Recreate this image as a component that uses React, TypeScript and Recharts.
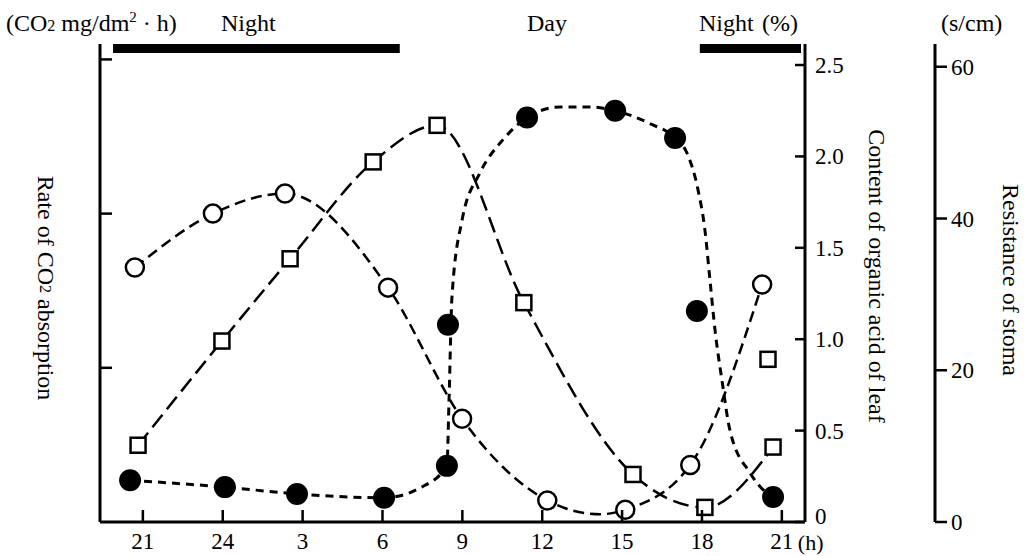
import React from 'react';
import { ComposedChart, Line, Scatter, XAxis, YAxis, ReferenceArea } from 'recharts';

const FONT = "'Liberation Serif', 'Times New Roman', serif";
const FS = 23; // tick labels
const TS = 24; // titles

// hours counted from 21:00 of the first evening (0 = 21h ... 24 = 21h next day)
const hourTicks = [0, 3, 6, 9, 12, 15, 18, 21, 24];
const hourLabels = ['21', '24', '3', '6', '9', '12', '15', '18', '21'];
const hourDomain = [-1.61, 24.87];

const co2Ticks = [1, 2, 3];
const acidTicks = [0, 0.5, 1, 1.5, 2, 2.5];
const stomaTicks = [0, 20, 40, 60];

// dark periods (black bars along the top)
const nightStart = [-1.12, 20.92];
const nightEnd = [9.65, 24.72];

// rate of CO2 absorption - open circles
const co2Hours = [-0.3, 2.63, 5.34, 9.21, 11.99, 15.19, 18.12, 20.56, 23.26];
const co2Rate = [1.65, 2.0, 2.13, 1.52, 0.67, 0.14, 0.08, 0.37, 1.54];
const co2CurveHours = [-0.3, 2.63, 5.34, 9.21, 11.99, 15.19, 17.17, 18.12, 20.56, 23.26];
const co2CurveRate = [1.65, 2.0, 2.13, 1.52, 0.67, 0.14, 0.05, 0.08, 0.37, 1.54];

// organic acid content of leaf (%) - open squares
const acidHours = [-0.18, 2.97, 5.53, 8.65, 11.05, 14.31, 18.41, 21.11, 23.67, 23.48];
const acidContent = [0.42, 0.99, 1.44, 1.97, 2.17, 1.2, 0.26, 0.08, 0.41, 0.89];
const acidCurveHours = [-0.18, 2.97, 5.53, 8.65, 11.05, 14.31, 18.41, 21.11, 23.67];
const acidCurveContent = [0.42, 0.99, 1.44, 1.97, 2.17, 1.2, 0.26, 0.08, 0.41];

// stomatal resistance (s/cm) - filled circles
const stomaHours = [-0.48, 3.08, 5.79, 9.06, 11.42, 11.46, 14.43, 17.74, 19.99, 20.81, 23.67];
const stomaResistance = [5.5, 4.6, 3.7, 3.2, 7.4, 26.0, 53.3, 54.2, 50.6, 27.8, 3.3];
const stomaCurveHours = [
  -0.48, 3.08, 5.79, 9.06, 10.41, 11.42, 11.5, 11.61, 11.99, 12.66, 13.53, 14.43, 15.67, 16.8,
  17.74, 19.05, 19.99, 20.44, 20.85, 21.11, 21.3, 21.49, 21.75, 22.05, 22.8, 23.44, 23.67,
];
const stomaCurveResistance = [
  5.5, 4.6, 3.7, 3.2, 4.5, 7.4, 16.1, 29.7, 39.8, 46.0, 50.4, 53.3, 54.7, 54.7,
  54.2, 52.5, 50.6, 48.6, 43.8, 38.5, 31.9, 25.3, 18.7, 12.1, 6.5, 3.8, 3.3,
];

const pts = (xs: number[], ys: number[]) => xs.map((t, i) => ({ t, v: ys[i] }));

const HourTick = ({ x, y, payload }: any) => {
  const i = hourTicks.indexOf(payload.value);
  return (
    <g>
      <line x1={x} y1={y} x2={x} y2={y - 12} stroke="#000" strokeWidth={2.5} />
      <text x={x} y={y + 27} textAnchor="middle" fontSize={FS} fontFamily={FONT} fill="#000">
        {hourLabels[i]}
      </text>
      {i === hourTicks.length - 1 && (
        <text x={x + 16} y={y + 28} fontSize={22} fontFamily={FONT} fill="#000">
          (h)
        </text>
      )}
    </g>
  );
};

const Co2Tick = ({ x, y }: any) => (
  <line x1={x} y1={y} x2={x + 12} y2={y} stroke="#000" strokeWidth={2.5} />
);

const AcidTick = ({ x, y, payload }: any) => (
  <g>
    <line x1={x - 10} y1={y} x2={x} y2={y} stroke="#000" strokeWidth={2.5} />
    <text
      x={x + 10}
      y={payload.value === 0 ? y - 6 : y}
      dy="0.35em"
      fontSize={FS}
      fontFamily={FONT}
      fill="#000"
    >
      {payload.value === 0 ? '0' : payload.value.toFixed(1)}
    </text>
  </g>
);

const StomaTick = ({ x, y, payload }: any) => (
  <g>
    <line x1={x} y1={y} x2={x + 12} y2={y} stroke="#000" strokeWidth={2.5} />
    <text x={x + 16} y={y} dy="0.35em" fontSize={FS} fontFamily={FONT} fill="#000">
      {payload.value}
    </text>
  </g>
);

const OpenCircle = ({ cx, cy }: any) => (
  <circle cx={cx} cy={cy} r={9} fill="#fff" stroke="#000" strokeWidth={2.5} />
);
const FilledCircle = ({ cx, cy }: any) => <circle cx={cx} cy={cy} r={11} fill="#000" />;
const OpenSquare = ({ cx, cy }: any) => (
  <rect x={cx - 7.5} y={cy - 7.5} width={15} height={15} fill="#fff" stroke="#000" strokeWidth={2.5} />
);

export default function App() {
  const axisLine = { stroke: '#000', strokeWidth: 3 };
  return (
    <div style={{ position: 'absolute', left: 0, top: 0, width: 1025, height: 556, background: '#fff' }}>
      <ComposedChart width={1025} height={556} margin={{ top: 44, right: 0, bottom: 0, left: 0 }}>
        <XAxis
          xAxisId="x"
          type="number"
          dataKey="t"
          domain={hourDomain}
          allowDataOverflow
          ticks={hourTicks}
          interval={0}
          height={34}
          tickSize={0}
          tickMargin={0}
          tickLine={false}
          tick={<HourTick />}
          axisLine={axisLine}
        />
        <XAxis
          xAxisId="top"
          orientation="top"
          type="number"
          dataKey="t"
          domain={hourDomain}
          allowDataOverflow
          height={0}
          tick={false}
          tickLine={false}
          axisLine={{ stroke: '#000', strokeWidth: 2 }}
        />
        <YAxis
          yAxisId="co2"
          orientation="left"
          type="number"
          dataKey="v"
          domain={[0, 3.1]}
          allowDataOverflow
          ticks={co2Ticks}
          interval={0}
          width={100}
          tickSize={0}
          tickMargin={0}
          tickLine={false}
          tick={<Co2Tick />}
          axisLine={axisLine}
        />
        <YAxis
          yAxisId="acid"
          orientation="right"
          type="number"
          dataKey="v"
          domain={[0, 2.615]}
          allowDataOverflow
          ticks={acidTicks}
          interval={0}
          width={130}
          tickSize={0}
          tickMargin={0}
          tickLine={false}
          tick={<AcidTick />}
          axisLine={axisLine}
        />
        <YAxis
          yAxisId="stoma"
          orientation="right"
          type="number"
          dataKey="v"
          domain={[0, 63]}
          allowDataOverflow
          ticks={stomaTicks}
          interval={0}
          width={90}
          tickSize={0}
          tickMargin={0}
          tickLine={false}
          tick={<StomaTick />}
          axisLine={axisLine}
        />

        {nightStart.map((s, i) => (
          <ReferenceArea
            key={'night' + i}
            xAxisId="x"
            yAxisId="co2"
            x1={s}
            x2={nightEnd[i]}
            y1={3.042}
            y2={3.1}
            fill="#000"
            fillOpacity={1}
            stroke="none"
          />
        ))}

        <Line
          xAxisId="x"
          yAxisId="co2"
          data={pts(co2CurveHours, co2CurveRate)}
          dataKey="v"
          type="monotone"
          stroke="#000"
          strokeWidth={2.5}
          strokeDasharray="11 6"
          dot={false}
          activeDot={false}
          isAnimationActive={false}
        />
        <Line
          xAxisId="x"
          yAxisId="acid"
          data={pts(acidCurveHours, acidCurveContent)}
          dataKey="v"
          type="monotone"
          stroke="#000"
          strokeWidth={2.5}
          strokeDasharray="16 7"
          dot={false}
          activeDot={false}
          isAnimationActive={false}
        />
        <Line
          xAxisId="x"
          yAxisId="stoma"
          data={pts(stomaCurveHours, stomaCurveResistance)}
          dataKey="v"
          type="monotone"
          stroke="#000"
          strokeWidth={3}
          strokeDasharray="8 6"
          dot={false}
          activeDot={false}
          isAnimationActive={false}
        />

        <Scatter
          xAxisId="x"
          yAxisId="co2"
          data={pts(co2Hours, co2Rate)}
          dataKey="v"
          shape={<OpenCircle />}
          isAnimationActive={false}
        />
        <Scatter
          xAxisId="x"
          yAxisId="acid"
          data={pts(acidHours, acidContent)}
          dataKey="v"
          shape={<OpenSquare />}
          isAnimationActive={false}
        />
        <Scatter
          xAxisId="x"
          yAxisId="stoma"
          data={pts(stomaHours, stomaResistance)}
          dataKey="v"
          shape={<FilledCircle />}
          isAnimationActive={false}
        />
      </ComposedChart>

      <svg
        width={1025}
        height={556}
        style={{ position: 'absolute', left: 0, top: 0, pointerEvents: 'none' }}
        fontFamily={FONT}
        fontSize={TS}
        fill="#000"
      >
        <text x={6} y={31}>
          (CO<tspan fontSize={16}>2</tspan> mg/dm<tspan fontSize={15} dy={-9}>2</tspan>
          <tspan dy={9}> · h)</tspan>
        </text>
        <text x={221} y={31}>Night</text>
        <text x={547} y={31} textAnchor="middle">Day</text>
        <text x={699} y={31}>Night</text>
        <text x={762} y={31}>(%)</text>
        <text x={941} y={31}>(s/cm)</text>

        <text transform="translate(46,288) rotate(90)" textAnchor="middle" dominantBaseline="central">
          Rate of CO<tspan fontSize={16}>2</tspan> absorption
        </text>
        <text transform="translate(877,276) rotate(90)" textAnchor="middle" dominantBaseline="central">
          Content of organic acid of leaf
        </text>
        <text transform="translate(1011,280) rotate(90)" textAnchor="middle" dominantBaseline="central">
          Resistance of stoma
        </text>
      </svg>
    </div>
  );
}
